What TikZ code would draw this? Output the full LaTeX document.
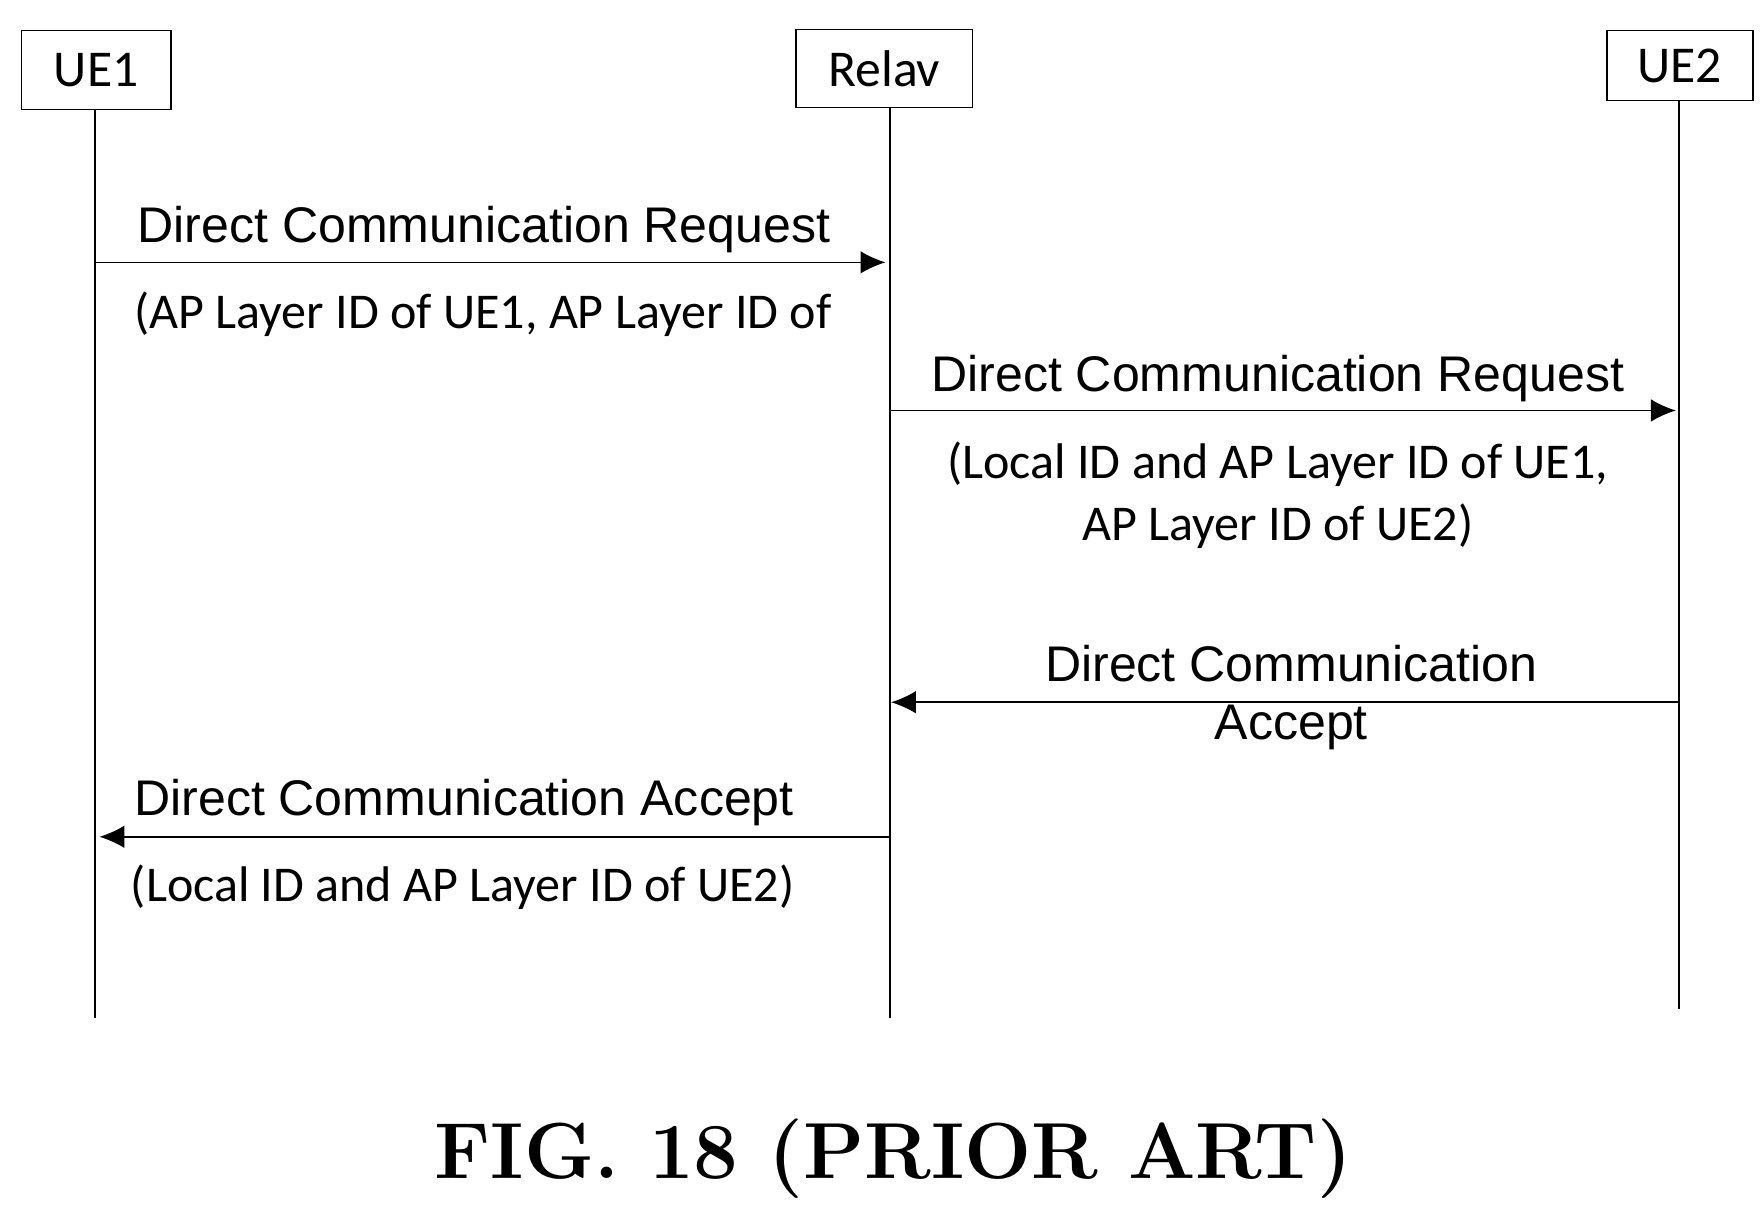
\documentclass[tikz,border=0pt]{standalone}
\usepackage{fontspec}
\setmainfont{Liberation Sans}
\newfontfamily\calibrifont{Carlito}
\newfontfamily\titlefont{Latin Modern Roman}
\usetikzlibrary{arrows.meta,positioning}
\begin{document}
\begin{tikzpicture} [-{Latex[length=2.2mm,width=2mm]},
    thin,
    party/.style={rectangle, draw, -, align=center, font=\calibrifont\fontsize{13}{15}\selectfont},
    msg/.style={font=\fontsize{12.6}{14.5}\selectfont, inner sep=0pt},
    info/.style={font=\calibrifont\fontsize{12.6}{15.6}\selectfont, inner sep=0pt, align=center}
  ]
  \useasboundingbox (0,0) rectangle (15.6,-10.76);

  \node [party, minimum width=1.32cm, minimum height=0.7cm] (ue1) at (0.85,-0.62) {UE1};
  \node [party, minimum width=1.56cm, minimum height=0.69cm] (relay) at (7.82,-0.605) {Relav};
  \node [party, minimum width=1.29cm, minimum height=0.62cm] (ue2) at (14.855,-0.58) {UE2};

  \coordinate (ue1end) at (0.84,-9.0);
  \coordinate (relayend) at (7.87,-9.0);
  \coordinate (ue2end) at (14.85,-8.92);
  \draw [-] (ue1.south -| ue1end) -- (ue1end);
  \draw [-] (relay.south -| relayend) -- (relayend);
  \draw [-] (ue2.south -| ue2end) -- (ue2end);

  %%%%%%%%%%%%%%%%%%%%%%%%%%%%%%

  \coordinate (a1) at (0.84,-2.32);
  \coordinate (b1) at (7.83,-2.32);
  \draw (a1) -- (b1);
  \node [msg] (m1) at (4.28,-2.03) {Direct Communication Request};
  \node [info, anchor=west] (p1) at (1.18,-2.78) {(AP Layer ID of UE1, AP Layer ID of};

  \coordinate (a2) at (7.86,-3.63);
  \coordinate (b2) at (14.82,-3.63);
  \draw (a2) -- (b2);
  \node [msg] (m2) at (11.3,-3.35) {Direct Communication Request};
  \node [info] (p2) at (11.3,-4.38) {(Local ID and AP Layer ID of UE1,\\AP Layer ID of UE2)};

  \coordinate (a3) at (14.85,-6.21);
  \coordinate (b3) at (7.88,-6.21);
  \draw (a3) -- (b3);
  \node [msg, align=center] (m3) at (11.42,-6.17) {Direct Communication\\Accept};

  \coordinate (a4) at (7.86,-7.4);
  \coordinate (b4) at (0.88,-7.4);
  \draw (a4) -- (b4);
  \node [msg, anchor=west] (m4) at (1.18,-7.1) {Direct Communication Accept};
  \node [info, anchor=west] (p4) at (1.15,-7.85) {(Local ID and AP Layer ID of UE2)};

  \node [font=\titlefont\bfseries\fontsize{20}{24}\selectfont] (fig) at (7.9,-10.25) {FIG. 18 (PRIOR ART)};
\end{tikzpicture}
\end{document}
